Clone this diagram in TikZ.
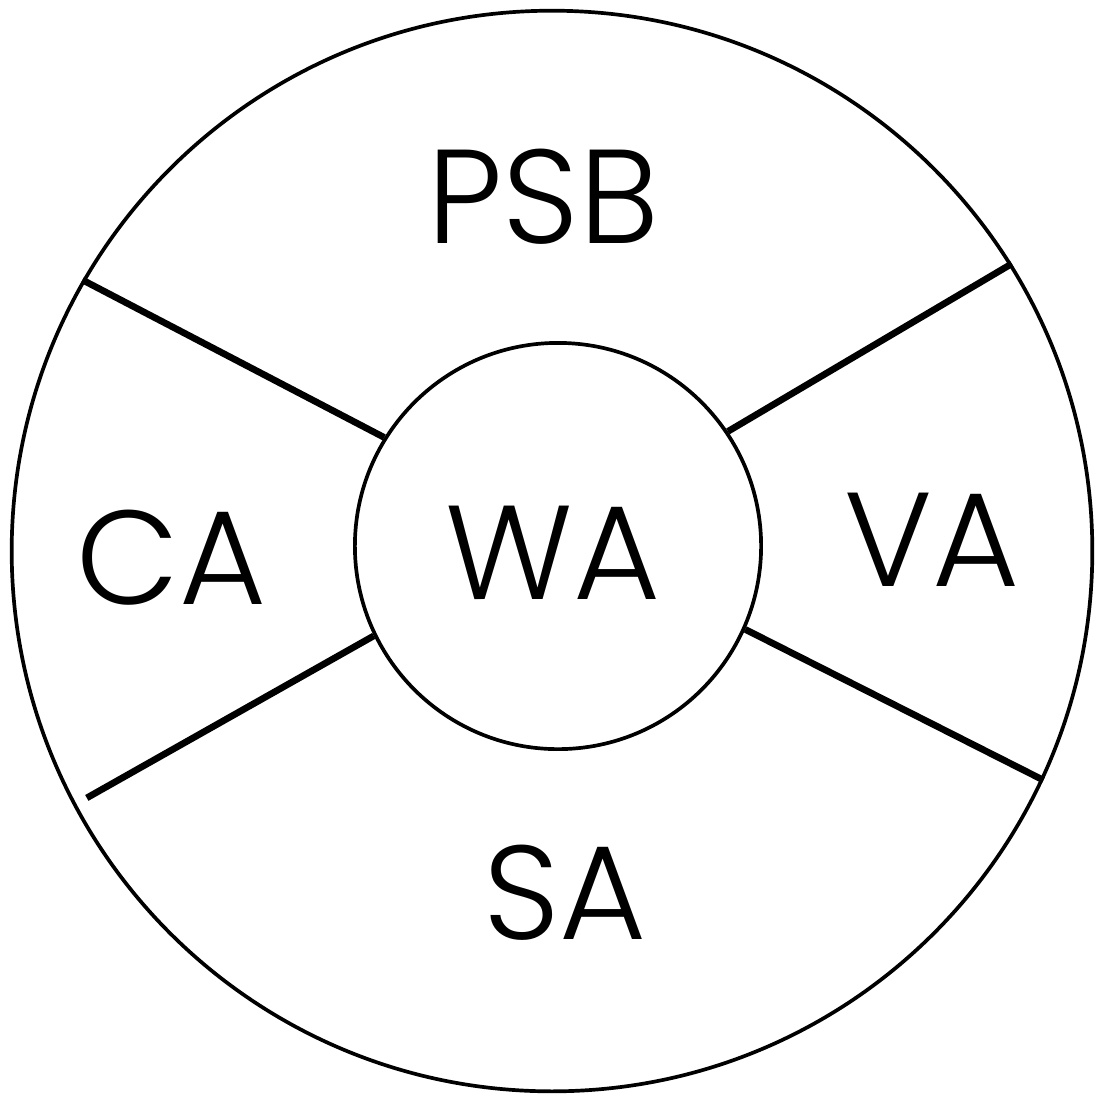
\documentclass[tikz,border=0pt]{standalone}
\usepackage{fontspec}
\setmainfont{Poppins}[UprightFont=* Light]
\usetikzlibrary{calc}
\begin{document}
\begin{tikzpicture}[x=0.01cm,y=-0.01cm,
  ring/.style={circle,draw,line width=1.05pt,inner sep=0pt},
  spoke/.style={line width=1.9pt},
  lbl/.style={font=\fontsize{38}{40}\selectfont,inner sep=0pt}]
\useasboundingbox (0,0) rectangle (1104,1102);
\node[ring,minimum size=10.8cm] (outer) at (552,551) {};
\node[ring,minimum size=4.06cm] (wa) at (558,546) {};
\node[lbl] (wal) at (553,553) {WA};
\node[lbl] (psb) at (543,197) {PSB};
\node[lbl] (ca) at (172,558) {CA};
\node[lbl] (va) at (932,540) {VA};
\node[lbl] (sa) at (565,893) {SA};
\draw[spoke] (outer.150) -- (wa.148);
\draw[spoke] (outer.32) -- (wa.34);
\draw[spoke] ($(outer.208.4)!0.045!(wa.206.8)$) -- (wa.206.8);
\draw[spoke] (outer.-25.4) -- (wa.-24.4);
\end{tikzpicture}
\end{document}
